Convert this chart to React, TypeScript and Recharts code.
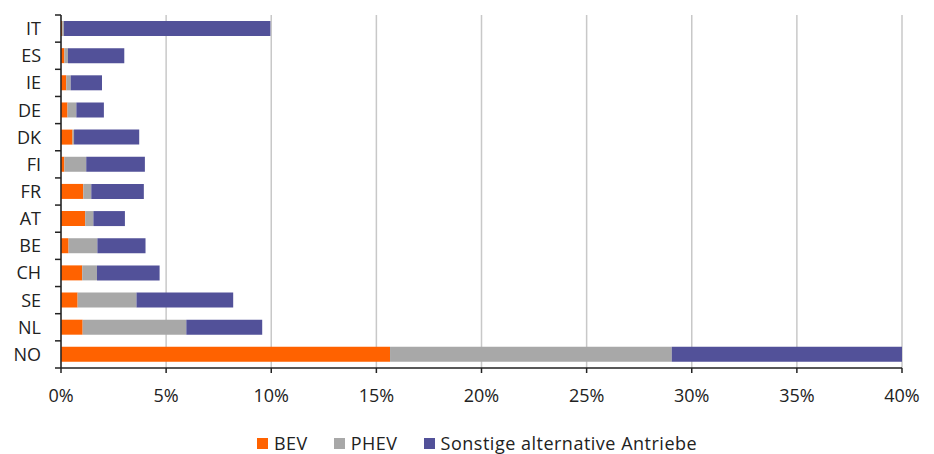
import { Bar, BarChart, CartesianGrid, Legend, XAxis, YAxis } from "recharts";

const countries = ["IT", "ES", "IE", "DE", "DK", "FI", "FR", "AT", "BE", "CH", "SE", "NL", "NO"];
const bev = [0.06, 0.16, 0.25, 0.31, 0.55, 0.16, 1.06, 1.15, 0.36, 1.01, 0.79, 1.03, 15.65];
const phev = [0.08, 0.17, 0.21, 0.42, 0.07, 1.04, 0.38, 0.39, 1.37, 0.7, 2.8, 4.93, 13.4];
const other = [9.82, 2.68, 1.49, 1.31, 3.1, 2.79, 2.5, 1.5, 2.29, 2.98, 4.6, 3.61, 10.95];
const xTicks = [0, 5, 10, 15, 20, 25, 30, 35, 40];

const series = [
  { key: "bev", name: "BEV", color: "#ff6200" },
  { key: "phev", name: "PHEV", color: "#a8a8a8" },
  { key: "other", name: "Sonstige alternative Antriebe", color: "#525199" },
];

const data = countries.map((c, i) => ({
  country: c,
  bev: bev[i],
  phev: phev[i],
  other: other[i],
}));

const FONT = "'Open Sans', sans-serif";
const TEXT = "#222";
const AXIS = "#222";

function CountryTick(props: any) {
  const { x, y, payload, index } = props;
  const half = payload.offset ?? 13.6;
  const lx = x + 14;
  return (
    <g>
      <line x1={lx} x2={lx + 6} y1={y - half} y2={y - half} stroke={AXIS} strokeWidth={1.5} />
      {index === countries.length - 1 && (
        <line x1={lx} x2={lx + 6} y1={y + half} y2={y + half} stroke={AXIS} strokeWidth={1.5} />
      )}
      <text x={x} y={y} dy="0.36em" textAnchor="end" fontSize={18} fontFamily={FONT} fill={TEXT}>
        {payload.value}
      </text>
    </g>
  );
}

function LegendContent() {
  return (
    <div
      style={{
        height: 30,
        paddingTop: 9,
        boxSizing: "border-box",
        display: "flex",
        justifyContent: "center",
        gap: 26,
        fontFamily: FONT,
        fontSize: 18,
        lineHeight: "19px",
        letterSpacing: 0.5,
        color: TEXT,
        marginLeft: 52,
      }}
    >
      {series.map((s) => (
        <span key={s.key} style={{ display: "flex", alignItems: "center" }}>
          <span
            style={{ width: 11, height: 11, background: s.color, display: "inline-block", marginRight: 6 }}
          />
          {s.name}
        </span>
      ))}
    </div>
  );
}

export default function App() {
  return (
    <div style={{ position: "absolute", left: 0, top: 0, background: "#fff" }}>
      <BarChart
        width={934}
        height={454}
        data={data}
        layout="vertical"
        margin={{ top: 15, right: 32, left: 0, bottom: 0 }}
        barSize={15}
      >
        <CartesianGrid horizontal={false} stroke="#c8c8c8" strokeWidth={1.5} />
        <XAxis
          type="number"
          domain={[0, 40]}
          ticks={xTicks}
          tickFormatter={(v) => `${v}%`}
          interval={0}
          height={56}
          tickSize={5}
          tickMargin={16}
          axisLine={{ stroke: AXIS, strokeWidth: 1.5 }}
          tickLine={{ stroke: AXIS, strokeWidth: 1.5 }}
          tick={{ fontSize: 18, fontFamily: FONT, fill: TEXT }}
        />
        <YAxis
          type="category"
          dataKey="country"
          width={61}
          tickSize={6}
          tickMargin={14}
          tickLine={false}
          axisLine={{ stroke: AXIS, strokeWidth: 1.5 }}
          tick={<CountryTick />}
          interval={0}
        />
        <Legend verticalAlign="bottom" content={<LegendContent />} />
        {series.map((s) => (
          <Bar
            key={s.key}
            dataKey={s.key}
            name={s.name}
            stackId="a"
            fill={s.color}
            isAnimationActive={false}
          />
        ))}
      </BarChart>
    </div>
  );
}
